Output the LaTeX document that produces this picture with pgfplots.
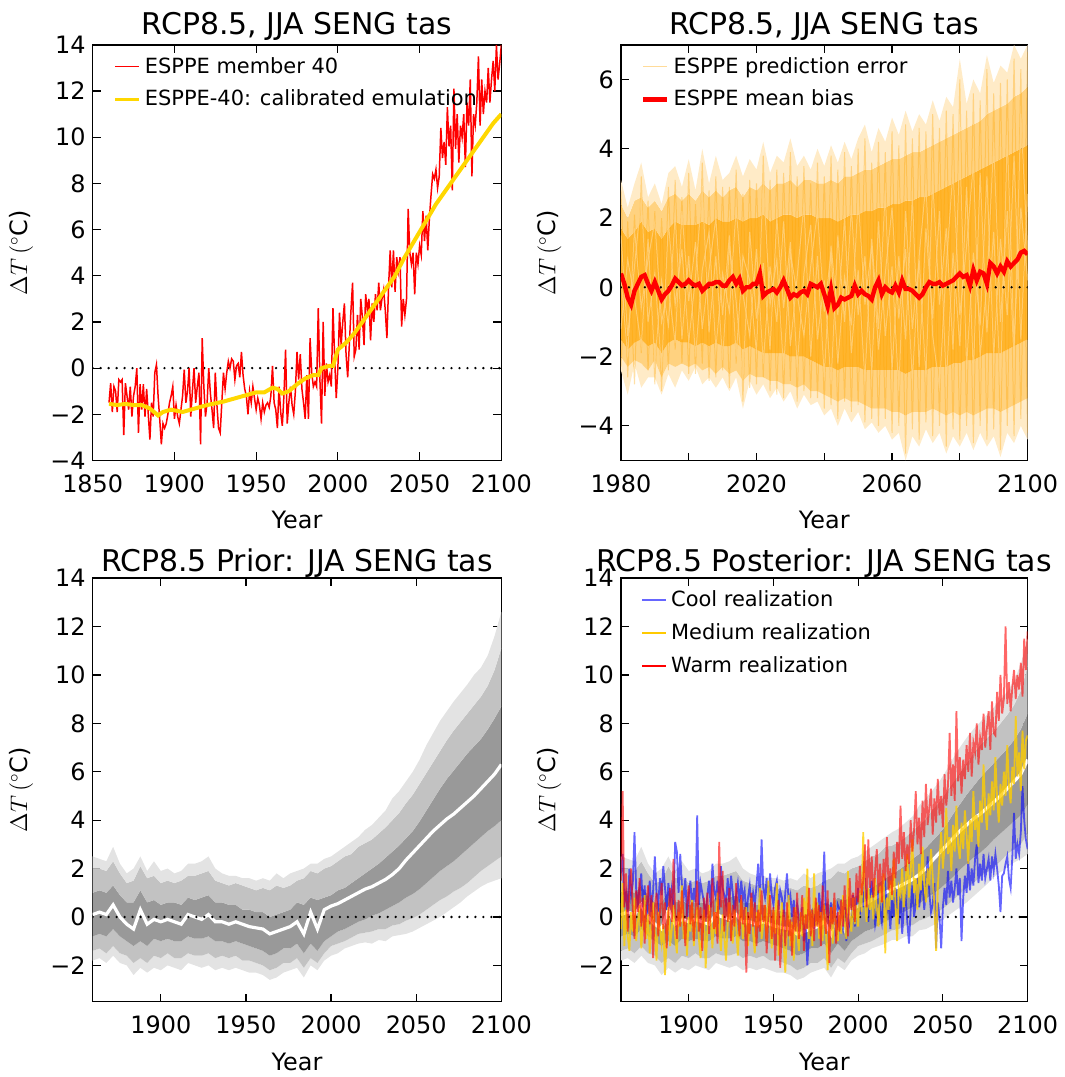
\documentclass[border=0pt]{standalone}
\usepackage{pgfplots}
\pgfplotsset{compat=1.18}
\usepackage{pgfplotstable}
\usepackage{fontspec}
\setmainfont{DejaVu Sans}
\definecolor{emugold}{RGB}{255,215,0}
\definecolor{errorange}{RGB}{255,165,0}

% ---------- data ----------
% ESPPE member 40
\pgfplotstableread[row sep=\\]{
year t\\
1860 -1.5\\ 1861 -0.65\\ 1862 -1.9\\ 1863 -0.8\\ 1864 -1.0\\ 1865 -1.9\\ 1866 -0.5\\ 1867 -0.6\\
1868 -0.5\\ 1869 -2.9\\ 1870 -0.65\\ 1871 -1.2\\ 1872 -1.8\\ 1873 -0.8\\ 1874 -2.1\\ 1875 -1.2\\
1876 -0.8\\ 1877 0.0\\ 1878 -2.8\\ 1879 -0.7\\ 1880 -1.8\\ 1881 -0.7\\ 1882 -2.1\\ 1883 -0.9\\
1884 -2.0\\ 1885 -3.1\\ 1886 -1.5\\ 1887 -2.1\\ 1888 -0.2\\ 1889 0.15\\ 1890 -1.2\\ 1891 -2.2\\
1892 -3.3\\ 1893 -2.4\\ 1894 -2.6\\ 1895 -2.4\\ 1896 -2.0\\ 1897 -1.5\\ 1898 -1.2\\ 1899 -0.8\\
1900 -2.2\\ 1901 -1.6\\ 1902 -2.1\\ 1903 -2.4\\ 1904 -1.8\\ 1905 -1.2\\ 1906 -0.07\\ 1907 -1.5\\
1908 -1.0\\ 1909 0.0\\ 1910 -2.1\\ 1911 -1.0\\ 1912 0.0\\ 1913 -1.5\\ 1914 -0.8\\ 1915 -0.2\\
1916 -3.3\\ 1917 1.3\\ 1918 -0.8\\ 1919 -2.1\\ 1920 -1.5\\ 1921 0.0\\ 1922 -1.1\\ 1923 -1.8\\
1924 -2.6\\ 1925 -0.2\\ 1926 -1.6\\ 1927 -2.6\\ 1928 -2.8\\ 1929 -1.5\\ 1930 -0.2\\ 1931 -0.9\\
1932 -0.2\\ 1933 0.3\\ 1934 0.0\\ 1935 0.4\\ 1936 0.3\\ 1937 -0.5\\ 1938 0.1\\ 1939 0.2\\
1940 -0.4\\ 1941 0.7\\ 1942 -0.3\\ 1943 -0.9\\ 1944 -1.2\\ 1945 -2.0\\ 1946 -1.0\\ 1947 -1.5\\
1948 -0.8\\ 1949 -1.3\\ 1950 -1.8\\ 1951 -1.3\\ 1952 -1.6\\ 1953 -2.2\\ 1954 -1.5\\ 1955 -1.9\\
1956 -1.6\\ 1957 -1.5\\ 1958 -1.7\\ 1959 -1.2\\ 1960 0.1\\ 1961 -1.5\\ 1962 -1.8\\ 1963 -2.6\\
1964 -0.8\\ 1965 -1.9\\ 1966 -2.5\\ 1967 -1.2\\ 1968 0.8\\ 1969 -2.4\\ 1970 -1.5\\ 1971 -0.8\\
1972 -1.6\\ 1973 -2.0\\ 1974 -1.0\\ 1975 0.7\\ 1976 -0.5\\ 1977 0.6\\ 1978 -0.9\\ 1979 -1.5\\
1980 -2.2\\ 1981 -0.3\\ 1982 -2.2\\ 1983 1.3\\ 1984 -0.2\\ 1985 -0.8\\ 1986 -0.6\\ 1987 -0.8\\
1988 2.6\\ 1989 -0.5\\ 1990 -2.4\\ 1991 2.0\\ 1992 -1.2\\ 1993 0.2\\ 1994 -0.6\\ 1995 -0.3\\
1996 -0.8\\ 1997 2.6\\ 1998 0.5\\ 1999 -1.3\\ 2000 0.0\\ 2001 2.4\\ 2002 1.0\\ 2003 2.0\\
2004 2.8\\ 2005 0.6\\ 2006 -0.4\\ 2007 1.0\\ 2008 2.5\\ 2009 3.7\\ 2010 0.5\\ 2011 0.8\\
2012 2.3\\ 2013 0.8\\ 2014 3.0\\ 2015 2.2\\ 2016 1.0\\ 2017 3.2\\ 2018 2.5\\ 2019 3.0\\
2020 1.2\\ 2021 2.8\\ 2022 2.0\\ 2023 3.2\\ 2024 2.5\\ 2025 3.7\\ 2026 2.5\\ 2027 3.0\\
2028 3.4\\ 2029 2.5\\ 2030 1.3\\ 2031 3.5\\ 2032 5.1\\ 2033 3.5\\ 2034 5.1\\ 2035 3.3\\
2036 4.8\\ 2037 4.2\\ 2038 4.8\\ 2039 1.8\\ 2040 3.0\\ 2041 2.3\\ 2042 3.0\\ 2043 6.9\\
2044 5.0\\ 2045 4.5\\ 2046 5.0\\ 2047 3.2\\ 2048 5.0\\ 2049 4.5\\ 2050 5.3\\ 2051 4.9\\
2052 6.8\\ 2053 5.5\\ 2054 6.6\\ 2055 5.1\\ 2056 6.5\\ 2057 7.5\\ 2058 8.4\\ 2059 8.2\\
2060 8.6\\ 2061 7.8\\ 2062 8.3\\ 2063 10.4\\ 2064 9.1\\ 2065 9.8\\ 2066 8.8\\ 2067 11.3\\
2068 9.6\\ 2069 10.5\\ 2070 7.7\\ 2071 12.1\\ 2072 9.5\\ 2073 11.0\\ 2074 8.9\\ 2075 10.5\\
2076 10.0\\ 2077 11.0\\ 2078 8.7\\ 2079 11.5\\ 2080 10.5\\ 2081 12.5\\ 2082 8.3\\ 2083 11.0\\
2084 10.5\\ 2085 11.5\\ 2086 13.5\\ 2087 10.5\\ 2088 12.5\\ 2089 11.0\\ 2090 12.0\\ 2091 11.5\\
2092 13.0\\ 2093 11.5\\ 2094 12.5\\ 2095 13.3\\ 2096 12.0\\ 2097 14.0\\ 2098 12.5\\ 2099 13.2\\
2100 14.0\\
}\memb

% prediction error envelope (2-yr steps) and a few error traces
\pgfplotstableread[row sep=\\]{
year olo mlo clo chi mhi ohi a b c d e\\
1980 -2.4 -2.0 -1.5 1.7 2.4 3.1 1.5 -1.2 0.3 2.8 -2.3\\
1982 -3.1 -2.3 -1.8 1.4 2.0 2.3 -1.4 0.8 -2.0 -2.6 1.9\\
1984 -2.2 -2.1 -1.6 1.6 2.5 3.0 0.6 -0.3 1.7 2.1 -2.8\\
1986 -2.9 -2.2 -1.5 1.9 2.6 3.6 2.6 -1.7 -0.6 -1.9 3.2\\
1988 -2.6 -2.4 -1.7 1.6 2.3 2.6 -1.0 1.4 0.8 2.5 -2.4\\
1990 -2.6 -2.1 -1.6 1.7 2.5 3.0 0.4 -2.2 1.9 -2.8 2.2\\
1992 -3.1 -2.6 -1.9 1.4 2.2 2.4 -2.4 0.2 -1.0 2.0 -3.0\\
1994 -2.5 -2.2 -1.6 1.7 2.6 3.3 1.9 -1.1 0.0 -2.4 2.9\\
1996 -2.9 -2.3 -1.5 1.9 2.7 3.5 -0.5 2.1 -1.6 3.1 -1.8\\
1998 -2.4 -2.2 -1.6 1.8 2.5 2.9 1.1 -1.5 2.2 -2.2 2.6\\
2000 -2.7 -2.3 -1.6 1.8 2.7 3.7 -1.6 0.9 -0.4 3.3 -2.5\\
2002 -2.3 -2.2 -1.7 1.8 2.5 2.8 0.3 -2.0 1.3 -2.5 2.4\\
2004 -2.8 -2.4 -1.6 1.9 2.8 4.0 2.9 0.5 -1.2 3.6 -2.2\\
2006 -2.6 -2.3 -1.7 1.8 2.6 3.0 -1.3 1.6 0.5 -2.7 2.8\\
2008 -2.9 -2.5 -1.6 2.0 2.8 3.8 0.9 -1.8 2.0 3.2 -2.6\\
2010 -2.6 -2.3 -1.7 1.9 2.6 3.1 -2.1 0.4 -0.8 -2.4 2.9\\
2012 -3.0 -2.5 -1.7 1.9 2.8 3.3 1.2 -0.7 1.5 2.9 -2.9\\
2014 -2.6 -2.4 -1.6 2.0 2.9 3.8 -0.4 2.3 -2.0 -2.2 3.4\\
2016 -3.5 -2.7 -1.8 1.9 2.6 3.2 -2.7 -0.2 0.9 2.7 -3.3\\
2018 -2.7 -2.5 -1.7 2.0 2.9 3.7 1.6 -1.4 0.2 -2.9 3.1\\
2020 -3.1 -2.6 -1.8 2.0 2.8 3.4 -0.9 1.1 -1.9 3.0 -2.8\\
2022 -2.8 -2.6 -1.9 2.1 3.0 4.2 0.7 -2.2 3.1 -2.6 3.8\\
2024 -3.2 -2.7 -1.9 1.9 2.8 3.3 -1.8 0.6 -0.5 3.1 -3.0\\
2026 -2.9 -2.7 -1.9 2.0 3.0 3.8 2.0 -1.0 0.8 -3.1 3.4\\
2028 -3.3 -2.8 -1.9 2.1 3.0 3.6 -0.6 1.9 -2.4 3.3 -3.2\\
2030 -3.0 -2.8 -2.0 2.1 3.1 4.3 1.3 -1.7 1.0 -2.7 3.9\\
2032 -3.5 -2.9 -2.0 2.0 2.9 3.5 -2.3 0.3 -0.2 3.2 -3.3\\
2034 -3.1 -2.8 -2.0 2.1 3.1 3.8 0.4 2.4 -1.4 -3.0 3.5\\
2036 -3.4 -3.0 -2.1 2.1 3.1 3.4 1.8 -2.0 0.6 3.0 -3.2\\
2038 -3.3 -3.0 -2.2 2.0 3.0 4.0 -1.5 0.9 2.2 -3.2 3.6\\
2040 -3.7 -3.1 -2.3 2.0 3.0 3.5 0.2 -2.6 -0.7 3.2 -3.5\\
2042 -3.5 -3.2 -2.3 2.0 3.1 4.1 -2.8 1.2 1.0 -3.4 3.8\\
2044 -4.0 -3.3 -2.4 1.9 3.0 3.6 1.5 -0.8 -2.2 3.4 -3.8\\
2046 -3.5 -3.2 -2.3 2.0 3.2 4.2 -1.0 2.0 0.3 -3.3 3.9\\
2048 -3.9 -3.3 -2.3 2.1 3.2 3.7 2.3 -1.9 -1.1 3.5 -3.6\\
2050 -3.6 -3.3 -2.3 2.1 3.3 4.3 -0.8 0.5 2.6 -3.4 4.0\\
2052 -4.1 -3.4 -2.4 2.2 3.4 4.7 0.9 -2.7 -0.5 4.3 -3.9\\
2054 -3.9 -3.5 -2.4 2.2 3.4 3.9 -2.5 1.4 1.2 -3.8 3.6\\
2056 -4.2 -3.5 -2.4 2.3 3.5 4.6 1.9 -1.2 -1.8 4.2 -4.0\\
2058 -4.0 -3.5 -2.4 2.3 3.6 4.2 -1.4 2.8 0.4 -3.8 3.9\\
2060 -4.4 -3.6 -2.4 2.4 3.7 4.9 0.6 -2.4 2.3 4.5 -4.2\\
2062 -4.2 -3.6 -2.4 2.4 3.7 4.4 -3.0 0.9 -0.9 -4.0 4.1\\
2064 -5.0 -3.7 -2.5 2.5 3.8 5.1 2.2 -1.5 1.1 4.7 -4.8\\
2066 -4.3 -3.6 -2.4 2.5 3.9 4.5 -1.2 2.6 -2.7 -4.1 4.3\\
2068 -4.6 -3.6 -2.4 2.6 3.9 5.0 0.8 -2.3 0.9 4.6 -4.4\\
2070 -4.1 -3.6 -2.4 2.6 4.0 4.7 -2.6 1.7 3.0 -3.9 4.5\\
2072 -4.5 -3.5 -2.3 2.7 4.1 5.4 3.1 -0.9 -1.4 5.0 -4.3\\
2074 -4.2 -3.6 -2.3 2.8 4.2 4.8 -0.5 2.2 -2.9 -4.0 4.6\\
2076 -4.8 -3.7 -2.3 2.9 4.3 5.5 1.7 -2.8 0.6 5.1 -4.6\\
2078 -4.3 -3.6 -2.2 3.0 4.4 5.2 -1.8 1.0 3.4 -4.1 5.0\\
2080 -4.6 -3.7 -2.2 3.1 4.5 6.6 4.0 -1.7 -0.8 6.0 -4.4\\
2082 -4.2 -3.6 -2.1 3.2 4.6 5.3 -2.3 2.9 1.2 -4.0 5.1\\
2084 -4.7 -3.7 -2.1 3.3 4.7 6.0 1.0 -2.5 3.6 5.6 -4.5\\
2086 -4.2 -3.6 -2.0 3.4 4.8 5.6 -1.1 3.3 -2.0 -4.0 5.4\\
2088 -4.6 -3.5 -1.9 3.5 5.0 6.7 3.2 -1.3 0.1 6.3 -4.4\\
2090 -4.3 -3.5 -1.9 3.6 5.1 5.9 -2.0 1.6 4.2 -4.1 5.6\\
2092 -4.9 -3.6 -1.9 3.7 5.2 6.4 1.4 -2.9 -1.0 5.9 -4.7\\
2094 -4.2 -3.5 -1.8 3.8 5.3 6.2 -0.8 4.4 2.2 -4.0 6.0\\
2096 -4.5 -3.4 -1.7 3.9 5.5 7.0 3.8 -1.6 -2.1 6.6 -4.3\\
2098 -4.0 -3.3 -1.6 4.0 5.6 6.6 -1.5 2.3 5.0 -3.8 6.3\\
2100 -4.4 -3.2 -1.5 4.1 5.8 7.0 2.7 0.2 1.0 6.8 -4.2\\
}\errtab

% ESPPE mean bias
\pgfplotstableread[row sep=\\]{
year b\\
1980 0.4\\ 1981 0.1\\ 1982 -0.3\\ 1983 -0.5\\ 1984 -0.1\\ 1985 0.1\\ 1986 0.3\\ 1987 0.35\\
1988 0.1\\ 1989 -0.1\\ 1990 0.15\\ 1991 -0.1\\ 1992 -0.35\\ 1993 -0.2\\ 1994 -0.1\\ 1995 0.05\\
1996 0.25\\ 1997 0.15\\ 1998 0.05\\ 1999 0.1\\ 2000 0.2\\ 2001 0.1\\ 2002 0.05\\ 2003 0.1\\
2004 -0.1\\ 2005 0.0\\ 2006 0.1\\ 2007 0.1\\ 2008 0.15\\ 2009 0.15\\ 2010 0.05\\ 2011 0.05\\
2012 0.2\\ 2013 0.3\\ 2014 0.1\\ 2015 0.25\\ 2016 -0.1\\ 2017 0.0\\ 2018 0.0\\ 2019 0.1\\
2020 0.1\\ 2021 0.4\\ 2022 -0.25\\ 2023 -0.15\\ 2024 -0.1\\ 2025 -0.05\\ 2026 -0.15\\ 2027 0.0\\
2028 0.2\\ 2029 -0.05\\ 2030 -0.3\\ 2031 -0.2\\ 2032 -0.25\\ 2033 -0.15\\ 2034 -0.1\\ 2035 -0.2\\
2036 0.1\\ 2037 0.05\\ 2038 0.0\\ 2039 0.1\\ 2040 -0.2\\ 2041 -0.55\\ 2042 -0.05\\ 2043 -0.6\\
2044 -0.5\\ 2045 -0.3\\ 2046 -0.35\\ 2047 -0.3\\ 2048 -0.25\\ 2049 0.05\\ 2050 -0.2\\ 2051 -0.1\\
2052 -0.2\\ 2053 -0.25\\ 2054 -0.35\\ 2055 0.0\\ 2056 0.2\\ 2057 -0.2\\ 2058 0.0\\ 2059 -0.1\\
2060 -0.15\\ 2061 0.05\\ 2062 -0.15\\ 2063 0.2\\ 2064 -0.05\\ 2065 -0.05\\ 2066 -0.1\\ 2067 -0.2\\
2068 -0.3\\ 2069 -0.2\\ 2070 0.0\\ 2071 0.15\\ 2072 0.1\\ 2073 0.1\\ 2074 0.15\\ 2075 0.05\\
2076 0.1\\ 2077 0.15\\ 2078 0.2\\ 2079 0.3\\ 2080 0.4\\ 2081 0.3\\ 2082 0.35\\ 2083 0.05\\
2084 0.5\\ 2085 0.2\\ 2086 0.45\\ 2087 0.4\\ 2088 0.1\\ 2089 0.7\\ 2090 0.6\\ 2091 0.4\\
2092 0.6\\ 2093 0.45\\ 2094 0.75\\ 2095 0.6\\ 2096 0.7\\ 2097 0.8\\ 2098 1.0\\ 2099 1.05\\
2100 0.95\\
}\biastab

% prior percentile bands
\pgfplotstableread[row sep=\\]{
year olo llo dlo med dhi lhi ohi\\
1860 -1.8 -1.4 -0.8 0.1 1.0 2.0 2.5\\
1864 -1.7 -1.3 -0.7 0.2 1.1 2.0 2.4\\
1868 -1.9 -1.5 -0.8 0.1 1.0 1.9 2.3\\
1872 -1.6 -1.2 -0.5 0.5 1.3 2.3 2.9\\
1876 -1.9 -1.5 -0.8 0.0 0.9 1.8 2.2\\
1880 -2.0 -1.6 -1.0 -0.3 0.6 1.4 1.8\\
1884 -2.4 -1.9 -1.2 -0.5 0.6 1.5 2.0\\
1888 -2.1 -1.7 -1.0 0.3 1.1 2.1 2.5\\
1892 -2.3 -1.9 -1.2 -0.3 0.6 1.6 1.9\\
1896 -2.1 -1.6 -0.9 -0.1 0.7 1.7 2.3\\
1900 -2.2 -1.7 -1.0 -0.2 0.5 1.4 1.9\\
1904 -2.0 -1.5 -0.9 -0.1 0.6 1.5 2.0\\
1908 -2.1 -1.7 -1.0 -0.2 0.6 1.4 1.8\\
1912 -2.2 -1.7 -1.0 -0.3 0.5 1.5 1.9\\
1916 -1.9 -1.5 -0.8 0.1 0.8 1.7 2.2\\
1920 -2.0 -1.6 -0.9 0.0 0.7 1.7 2.2\\
1924 -2.1 -1.6 -0.9 -0.1 0.8 1.8 2.3\\
1928 -2.0 -1.5 -0.8 0.1 0.9 1.9 2.5\\
1932 -2.2 -1.7 -1.0 -0.2 0.6 1.5 2.0\\
1936 -2.1 -1.6 -1.0 -0.2 0.6 1.4 1.8\\
1940 -2.2 -1.7 -1.1 -0.3 0.5 1.3 1.7\\
1944 -2.1 -1.6 -1.0 -0.2 0.5 1.4 1.7\\
1948 -2.2 -1.8 -1.1 -0.3 0.3 1.3 1.6\\
1952 -2.3 -1.8 -1.2 -0.4 0.3 1.2 1.6\\
1956 -2.3 -1.9 -1.3 -0.45 0.2 1.1 1.5\\
1960 -2.4 -2.0 -1.4 -0.5 0.2 1.2 1.6\\
1964 -2.6 -2.2 -1.6 -0.7 0.0 1.1 1.5\\
1968 -2.5 -2.1 -1.5 -0.6 0.1 1.3 1.8\\
1972 -2.3 -1.9 -1.3 -0.5 0.2 1.2 1.6\\
1976 -2.2 -1.9 -1.3 -0.4 0.3 1.3 1.8\\
1980 -2.1 -1.7 -1.1 -0.2 0.6 1.5 1.9\\
1984 -2.5 -2.1 -1.5 -0.7 0.5 1.6 2.0\\
1988 -2.0 -1.7 -1.1 0.2 0.8 1.9 2.2\\
1992 -2.2 -1.9 -1.4 -0.5 0.7 1.8 2.2\\
1996 -1.8 -1.5 -1.0 0.3 0.8 2.0 2.4\\
2000 -1.6 -1.2 -0.8 0.45 0.9 2.1 2.5\\
2004 -1.5 -1.1 -0.6 0.55 1.1 2.3 2.7\\
2008 -1.3 -1.0 -0.5 0.7 1.2 2.5 2.9\\
2012 -1.2 -0.85 -0.35 0.85 1.4 2.6 3.1\\
2016 -1.1 -0.7 -0.2 1.0 1.6 2.9 3.3\\
2020 -1.05 -0.65 -0.1 1.15 1.8 3.05 3.6\\
2024 -1.1 -0.6 0.05 1.25 2.0 3.2 3.8\\
2028 -0.95 -0.5 0.15 1.4 2.2 3.45 4.1\\
2032 -1.0 -0.5 0.3 1.55 2.45 3.7 4.4\\
2036 -0.8 -0.35 0.45 1.75 2.7 4.0 4.9\\
2040 -0.75 -0.3 0.6 2.0 2.95 4.3 5.2\\
2044 -0.7 -0.15 0.8 2.35 3.25 4.7 5.6\\
2048 -0.6 -0.05 0.95 2.65 3.55 5.05 6.0\\
2052 -0.45 0.1 1.15 2.95 3.95 5.5 6.5\\
2056 -0.3 0.3 1.4 3.25 4.4 5.95 7.1\\
2060 -0.15 0.5 1.65 3.55 4.85 6.4 7.6\\
2064 0.0 0.7 1.9 3.8 5.3 6.85 8.1\\
2068 0.2 0.85 2.1 4.05 5.7 7.3 8.5\\
2072 0.4 1.05 2.3 4.25 6.05 7.7 8.9\\
2076 0.6 1.2 2.55 4.5 6.4 8.05 9.25\\
2080 0.85 1.4 2.8 4.75 6.75 8.4 9.6\\
2084 1.05 1.65 3.05 5.0 7.05 8.75 10.0\\
2088 1.25 1.9 3.3 5.3 7.35 9.1 10.3\\
2092 1.4 2.1 3.55 5.6 7.75 9.55 10.8\\
2096 1.5 2.3 3.75 5.9 8.2 10.2 11.6\\
2100 1.6 2.5 4.0 6.3 8.7 11.1 12.6\\
}\priortab

% posterior percentile bands
\pgfplotstableread[row sep=\\]{
year olo llo dlo med dhi lhi ohi\\
1860 -1.8 -1.4 -0.8 0.1 1.0 2.0 2.5\\
1864 -1.7 -1.3 -0.7 0.2 1.1 2.0 2.4\\
1868 -1.9 -1.5 -0.8 0.1 1.0 1.9 2.3\\
1872 -1.6 -1.2 -0.5 0.5 1.3 2.3 2.9\\
1876 -1.9 -1.5 -0.8 0.0 0.9 1.8 2.2\\
1880 -2.0 -1.6 -1.0 -0.3 0.6 1.4 1.8\\
1884 -2.4 -1.9 -1.2 -0.5 0.6 1.5 2.0\\
1888 -2.1 -1.7 -1.0 0.3 1.1 2.1 2.5\\
1892 -2.3 -1.9 -1.2 -0.3 0.6 1.6 1.9\\
1896 -2.1 -1.6 -0.9 -0.1 0.7 1.7 2.3\\
1900 -2.2 -1.7 -1.0 -0.2 0.5 1.4 1.9\\
1904 -2.0 -1.5 -0.9 -0.1 0.6 1.5 2.0\\
1908 -2.1 -1.7 -1.0 -0.2 0.6 1.4 1.8\\
1912 -2.2 -1.7 -1.0 -0.3 0.5 1.5 1.9\\
1916 -1.9 -1.5 -0.8 0.1 0.8 1.7 2.2\\
1920 -2.0 -1.6 -0.9 0.0 0.7 1.7 2.2\\
1924 -2.1 -1.6 -0.9 -0.1 0.8 1.8 2.3\\
1928 -2.0 -1.5 -0.8 0.1 0.9 1.9 2.5\\
1932 -2.2 -1.7 -1.0 -0.2 0.6 1.5 2.0\\
1936 -2.1 -1.6 -1.0 -0.2 0.6 1.4 1.8\\
1940 -2.2 -1.7 -1.1 -0.3 0.5 1.3 1.7\\
1944 -2.1 -1.6 -1.0 -0.2 0.5 1.4 1.7\\
1948 -2.2 -1.8 -1.1 -0.3 0.3 1.3 1.6\\
1952 -2.3 -1.8 -1.2 -0.4 0.3 1.2 1.6\\
1956 -2.3 -1.9 -1.3 -0.45 0.2 1.1 1.5\\
1960 -2.4 -2.0 -1.4 -0.5 0.2 1.2 1.6\\
1964 -2.6 -2.2 -1.6 -0.7 0.0 1.1 1.5\\
1968 -2.5 -2.1 -1.5 -0.6 0.1 1.3 1.8\\
1972 -2.3 -1.9 -1.3 -0.5 0.2 1.2 1.6\\
1976 -2.2 -1.9 -1.3 -0.4 0.3 1.3 1.8\\
1980 -2.1 -1.7 -1.1 -0.2 0.6 1.5 1.9\\
1984 -2.5 -2.1 -1.5 -0.7 0.5 1.6 2.0\\
1988 -2.0 -1.7 -1.1 0.2 0.8 1.9 2.2\\
1992 -2.2 -1.9 -1.4 -0.5 0.7 1.8 2.2\\
1996 -1.8 -1.5 -1.0 0.3 0.8 2.0 2.4\\
2000 -1.6 -1.2 -0.8 0.45 0.9 2.1 2.5\\
2004 -1.5 -1.1 -0.6 0.55 1.1 2.3 2.7\\
2008 -1.3 -1.0 -0.5 0.7 1.2 2.5 2.9\\
2012 -1.2 -0.85 -0.35 0.85 1.4 2.6 3.1\\
2016 -1.1 -0.7 -0.2 1.0 1.6 2.9 3.3\\
2020 -0.95 -0.55 -0.05 1.15 1.75 2.95 3.5\\
2024 -0.95 -0.5 0.12 1.25 1.95 3.1 3.65\\
2028 -0.8 -0.35 0.25 1.4 2.15 3.3 3.9\\
2032 -0.8 -0.35 0.4 1.55 2.4 3.55 4.15\\
2036 -0.55 -0.15 0.55 1.75 2.6 3.8 4.6\\
2040 -0.5 -0.05 0.75 2.0 2.85 4.05 4.9\\
2044 -0.35 0.1 0.95 2.35 3.15 4.45 5.25\\
2048 -0.2 0.25 1.15 2.65 3.45 4.75 5.6\\
2052 0.0 0.45 1.4 2.95 3.8 5.15 6.05\\
2056 0.2 0.7 1.65 3.25 4.25 5.55 6.55\\
2060 0.4 0.95 1.95 3.55 4.65 5.95 7.0\\
2064 0.6 1.2 2.2 3.8 5.05 6.35 7.4\\
2068 0.85 1.4 2.45 4.05 5.4 6.75 7.75\\
2072 1.1 1.65 2.65 4.25 5.75 7.1 8.05\\
2076 1.35 1.85 2.9 4.5 6.05 7.4 8.35\\
2080 1.65 2.05 3.2 4.75 6.35 7.65 8.65\\
2084 1.85 2.3 3.45 5.0 6.65 8.0 9.0\\
2088 2.05 2.6 3.7 5.3 6.95 8.35 9.3\\
2092 2.25 2.8 3.95 5.6 7.3 8.75 9.75\\
2096 2.4 3.0 4.2 5.9 7.75 9.35 10.45\\
2100 2.6 3.45 4.65 6.5 8.4 10.35 11.5\\
}\posttab

% cool / medium / warm posterior realizations
\pgfplotstableread[row sep=\\]{
year cool med warm\\
1860 1.8 -0.5 1.5\\ 1861 2.6 1.4 5.2\\ 1862 0.6 -1.2 0.4\\ 1863 1.0 0.3 1.8\\
1864 0.2 -0.8 -0.6\\ 1865 2.0 -1.4 1.2\\ 1866 0.9 0.2 2.0\\ 1867 1.4 -0.6 0.3\\
1868 3.5 0.8 -0.9\\ 1869 1.1 -1.0 1.1\\ 1870 0.5 -0.2 0.2\\ 1871 1.2 0.5 1.6\\
1872 1.8 -1.3 -0.4\\ 1873 0.4 -0.4 0.8\\ 1874 1.3 0.9 -1.1\\ 1875 -0.2 -0.9 0.5\\
1876 0.7 0.1 1.3\\ 1877 1.5 -1.5 -0.3\\ 1878 0.2 -0.3 0.9\\ 1879 1.1 0.6 -1.7\\
1880 2.5 -0.7 0.4\\ 1881 1.0 -1.8 1.0\\ 1882 0.5 0.2 -0.8\\ 1883 1.6 -0.5 0.2\\
1884 0.9 -1.1 1.4\\ 1885 2.1 -0.3 -0.5\\ 1886 1.2 -2.4 0.6\\ 1887 0.3 -0.9 -1.3\\
1888 1.4 0.4 0.1\\ 1889 0.7 -1.2 1.2\\ 1890 1.2 -0.5 -0.2\\ 1891 0.4 0.5 2.4\\
1892 3.1 -0.8 0.3\\ 1893 2.7 -1.5 -0.9\\ 1894 1.0 0.2 0.7\\ 1895 2.6 -0.4 -0.4\\
1896 1.3 1.3 1.1\\ 1897 0.8 -0.9 0.0\\ 1898 1.6 -0.2 -1.2\\ 1899 0.0 -1.6 0.5\\
1900 0.9 0.0 1.3\\ 1901 1.5 -0.6 -0.3\\ 1902 0.3 0.7 0.6\\ 1903 1.2 -1.2 -1.0\\
1904 0.6 -0.3 0.2\\ 1905 4.2 0.4 1.5\\ 1906 0.5 -0.9 -0.6\\ 1907 1.4 -1.7 0.4\\
1908 1.0 -0.4 -1.4\\ 1909 0.6 0.3 0.8\\ 1910 0.0 -2.1 -0.2\\ 1911 0.9 -0.6 1.0\\
1912 1.5 0.5 -0.7\\ 1913 0.4 -0.2 0.3\\ 1914 2.2 -1.3 1.6\\ 1915 1.1 0.2 -0.5\\
1916 0.8 -0.7 0.2\\ 1917 1.5 1.0 -1.1\\ 1918 0.3 -0.5 3.1\\ 1919 2.1 -1.4 0.4\\
1920 1.2 0.1 1.9\\ 1921 0.9 -0.8 -0.6\\ 1922 0.5 -1.8 0.8\\ 1923 1.6 -0.3 -0.2\\
1924 0.6 0.6 1.2\\ 1925 1.7 -0.6 -1.0\\ 1926 1.0 -1.1 0.5\\ 1927 0.2 0.3 -0.4\\
1928 0.9 -0.4 1.4\\ 1929 1.4 -1.6 0.1\\ 1930 0.6 -0.2 -0.8\\ 1931 1.5 0.7 0.9\\
1932 0.7 -0.9 -0.3\\ 1933 1.1 -0.3 0.4\\ 1934 0.0 0.4 -2.3\\ 1935 0.8 -1.2 0.2\\
1936 1.3 -0.1 -0.7\\ 1937 0.4 0.8 1.0\\ 1938 1.0 -0.7 -0.4\\ 1939 0.5 -1.5 0.6\\
1940 1.3 0.2 -1.2\\ 1941 2.2 -0.4 0.3\\ 1942 0.6 1.2 -0.6\\ 1943 3.2 -0.9 1.1\\
1944 1.2 -0.3 -0.2\\ 1945 0.8 0.5 0.5\\ 1946 1.6 -1.0 -1.5\\ 1947 0.4 1.5 0.0\\
1948 1.8 -0.2 0.9\\ 1949 0.9 -1.3 -0.9\\ 1950 0.5 0.3 0.4\\ 1951 1.2 -0.7 -1.8\\
1952 1.5 1.4 -0.3\\ 1953 0.3 -1.6 0.7\\ 1954 1.1 -0.4 -2.1\\ 1955 0.8 0.6 -0.5\\
1956 0.0 -1.1 0.3\\ 1957 1.0 -2.3 -1.2\\ 1958 1.8 -0.5 0.6\\ 1959 0.6 0.9 -0.8\\
1960 0.9 -1.2 -0.1\\ 1961 0.0 -0.2 -1.6\\ 1962 0.7 -1.8 0.4\\ 1963 -0.3 0.4 -0.6\\
1964 0.5 -0.6 1.0\\ 1965 0.1 -1.4 -0.9\\ 1966 -0.6 0.2 -0.2\\ 1967 0.4 -0.8 0.9\\
1968 -1.0 0.8 -1.4\\ 1969 -0.3 -0.5 0.1\\ 1970 -2.0 2.0 -0.5\\ 1971 -0.8 -0.9 1.2\\
1972 0.2 0.3 -0.8\\ 1973 0.3 -1.2 0.3\\ 1974 -0.5 1.8 -1.0\\ 1975 0.6 -0.4 0.8\\
1976 -0.2 0.6 -0.4\\ 1977 1.0 -0.9 0.5\\ 1978 0.1 0.2 -1.2\\ 1979 0.8 -1.0 1.3\\
1980 2.7 0.5 0.0\\ 1981 0.2 -0.6 -0.7\\ 1982 0.5 -2.2 1.1\\ 1983 -0.4 -0.3 -1.9\\
1984 0.6 0.4 0.4\\ 1985 -0.5 -1.1 -0.3\\ 1986 0.3 0.7 1.0\\ 1987 -0.8 -0.5 -1.1\\
1988 0.5 -1.0 0.2\\ 1989 0.3 0.3 -0.6\\ 1990 -0.2 -0.7 0.7\\ 1991 -0.5 0.9 -0.4\\
1992 0.4 -0.2 1.3\\ 1993 -1.0 -0.9 0.0\\ 1994 0.1 1.9 -0.8\\ 1995 -0.3 0.1 1.6\\
1996 0.0 -0.6 0.3\\ 1997 0.9 0.8 1.0\\ 1998 -0.4 -0.3 -0.2\\ 1999 0.5 0.5 1.8\\
2000 1.2 -0.4 0.6\\ 2001 0.1 1.1 2.1\\ 2002 1.0 0.2 0.9\\ 2003 0.4 3.5 1.5\\
2004 1.6 0.6 3.0\\ 2005 0.5 -0.2 0.4\\ 2006 -0.2 1.2 3.2\\ 2007 0.9 0.3 1.2\\
2008 1.5 0.9 2.5\\ 2009 0.6 -0.1 0.8\\ 2010 -0.3 1.6 1.9\\ 2011 0.2 0.4 2.8\\
2012 1.1 -0.4 1.0\\ 2013 0.3 1.3 2.2\\ 2014 -0.2 0.6 0.6\\ 2015 0.8 1.8 2.4\\
2016 1.3 -1.5 1.5\\ 2017 0.2 0.8 3.3\\ 2018 0.6 0.3 1.1\\ 2019 -0.5 1.5 2.0\\
2020 0.7 0.7 0.9\\ 2021 0.0 2.4 2.7\\ 2022 1.2 0.5 1.6\\ 2023 0.5 -1.0 3.1\\
2024 -0.3 1.2 2.2\\ 2025 1.0 0.9 4.6\\ 2026 -0.7 2.0 2.4\\ 2027 0.4 0.4 3.5\\
2028 0.9 1.4 1.9\\ 2029 -0.2 2.6 3.0\\ 2030 -1.1 0.8 2.2\\ 2031 0.3 1.9 4.0\\
2032 1.3 3.2 2.7\\ 2033 0.0 1.0 3.6\\ 2034 0.5 1.6 5.2\\ 2035 1.6 0.3 3.0\\
2036 0.4 2.2 4.1\\ 2037 1.0 1.1 2.6\\ 2038 1.5 2.9 4.8\\ 2039 0.3 1.4 3.3\\
2040 1.1 0.6 5.5\\ 2041 2.5 2.0 3.8\\ 2042 1.0 1.3 4.5\\ 2043 0.2 2.8 5.3\\
2044 0.5 1.7 3.4\\ 2045 1.4 0.5 4.9\\ 2046 -1.3 -1.4 3.9\\ 2047 0.6 1.2 5.7\\
2048 0.0 2.4 4.2\\ 2049 -1.3 3.5 5.0\\ 2050 0.4 2.0 3.7\\ 2051 1.2 2.9 5.9\\
2052 0.5 4.5 4.6\\ 2053 1.9 2.6 5.4\\ 2054 0.8 3.3 7.6\\ 2055 1.5 1.9 5.0\\
2056 0.6 3.8 6.3\\ 2057 1.2 2.7 4.8\\ 2058 2.0 4.6 8.5\\ 2059 0.9 3.0 5.6\\
2060 1.6 2.4 6.6\\ 2061 -1.0 3.9 5.1\\ 2062 0.8 2.8 6.5\\ 2063 1.7 4.4 5.7\\
2064 1.0 3.4 7.1\\ 2065 2.3 2.2 6.0\\ 2066 1.1 4.0 7.6\\ 2067 2.0 3.1 5.8\\
2068 1.3 5.2 7.2\\ 2069 2.4 3.6 6.8\\ 2070 3.0 4.2 8.0\\ 2071 1.4 2.9 6.3\\
2072 2.2 4.8 7.4\\ 2073 1.5 3.9 6.9\\ 2074 2.6 6.3 8.4\\ 2075 1.6 4.5 7.0\\
2076 2.0 3.6 7.8\\ 2077 2.4 5.1 8.5\\ 2078 1.5 4.2 6.9\\ 2079 2.5 5.6 8.9\\
2080 1.9 4.4 7.6\\ 2081 2.6 6.6 7.5\\ 2082 2.0 4.9 9.3\\ 2083 1.3 3.9 8.1\\
2084 0.2 5.5 10.0\\ 2085 1.7 4.6 8.4\\ 2086 1.8 6.0 9.0\\ 2087 2.2 5.0 12.0\\
2088 2.5 7.1 8.8\\ 2089 1.6 5.4 9.7\\ 2090 1.2 4.7 8.5\\ 2091 2.5 6.2 9.5\\
2092 4.3 5.5 10.2\\ 2093 2.4 8.3 9.0\\ 2094 3.0 5.8 10.0\\ 2095 2.6 6.8 9.4\\
2096 3.5 5.2 10.5\\ 2097 5.4 7.7 9.1\\ 2098 4.0 6.1 11.5\\ 2099 3.2 7.3 10.2\\
2100 2.8 7.5 11.8\\
}\realtab

\pgfplotsset{
  panel/.style={
    scale only axis,
    axis line style={line width=0.8pt},
    tick style={black, line width=0.6pt},
    major tick length=4pt,
    tick align=inside,
    tick label style={font=\fontsize{12}{14}\selectfont},
    xticklabel style={yshift=-3.5pt},
    every axis x label/.style={at={(axis description cs:0.5,0)}, yshift=-30pt, anchor=center,
      font=\fontsize{12}{14}\selectfont},
    every axis y label/.style={at={(axis description cs:0,0.5)}, xshift=-36pt, rotate=90, anchor=center,
      font=\fontsize{12}{14}\selectfont},
    title style={font=\fontsize{15}{18}\selectfont, at={(0.5,1)}, anchor=base, yshift=-1pt},
    xlabel={Year},
    ylabel={\(\Delta T\,(^\circ\)C)},
    legend cell align=left,
    legend style={draw=none, fill=none, at={(0,1)}, anchor=north west,
      xshift=7pt, yshift=-2pt, font=\fontsize{10.5}{12}\selectfont, row sep=3pt},
    legend image code/.code={\path (0pt,0pt) -- (12pt,0pt); \draw[##1] (0pt,0pt) -- (10pt,0pt);},
  },
  zeroline/.style={forget plot, black, line width=1.3pt, line cap=round, dash pattern=on 0pt off 4pt},
  band/.style={forget plot, draw=none, stack plots=y},
  streak/.style={forget plot, errorange, opacity=0.35, line width=0.5pt},
}

\begin{document}
\begin{tikzpicture}
\path (0pt,0pt) (533.5pt,-538.5pt);

% ---------------- top left ----------------
\begin{axis}[panel, at={(46.5pt,-22.5pt)}, anchor=north west, width=205pt, height=208.5pt,
  xmin=1850, xmax=2100, ymin=-4, ymax=14,
  xtick={1850,1900,1950,2000,2050,2100}, xticklabels={1850,1900,1950,2000,2050,2100},
  ytick={-4,-2,0,2,4,6,8,10,12,14}, yticklabels={−4,−2,0,2,4,6,8,10,12,14},
  title={RCP8.5, JJA SENG tas}]
\addplot[zeroline] coordinates {(1850,0) (2100,0)};
\addplot[red, line width=0.75pt] table[x=year,y=t]{\memb};
\addlegendentry{ESPPE member 40}
\addplot[emugold, line width=2pt] coordinates {
 (1860,-1.55) (1865,-1.6) (1870,-1.55) (1875,-1.6) (1880,-1.6) (1885,-1.75) (1890,-2.05)
 (1893,-1.9) (1898,-1.8) (1905,-1.9) (1910,-1.8) (1920,-1.6) (1930,-1.45) (1940,-1.25)
 (1950,-1.05) (1955,-1.05) (1960,-0.85) (1963,-0.9) (1966,-1.1) (1970,-1.0) (1975,-0.7)
 (1980,-0.45) (1985,-0.3) (1988,-0.3) (1990,0.0) (1995,0.1) (1997,0.1) (2000,0.8)
 (2005,1.1) (2010,1.5) (2015,2.0) (2020,2.5) (2025,3.0) (2030,3.5) (2035,4.0) (2040,4.7)
 (2045,5.3) (2050,5.9) (2055,6.5) (2060,7.1) (2065,7.6) (2070,8.1) (2075,8.6) (2080,9.1)
 (2085,9.6) (2090,10.1) (2095,10.6) (2100,11.0)};
\addlegendentry{ESPPE-40: calibrated emulation}
\end{axis}

% ---------------- top right ----------------
\begin{axis}[panel, at={(311.5pt,-22.5pt)}, anchor=north west, width=204pt, height=208.5pt,
  xmin=1980, xmax=2100, ymin=-5, ymax=7,
  xtick={1980,2000,2020,2040,2060,2080,2100}, xticklabels={1980,,2020,,2060,,2100},
  ytick={-4,-2,0,2,4,6}, yticklabels={−4,−2,0,2,4,6},
  title={RCP8.5, JJA SENG tas}]
\addplot[band] table[x=year,y=olo]{\errtab};
\addplot[band, fill=errorange!22] table[x=year,y expr=\thisrow{mlo}-\thisrow{olo}]{\errtab} \closedcycle;
\addplot[band, fill=errorange!50] table[x=year,y expr=\thisrow{clo}-\thisrow{mlo}]{\errtab} \closedcycle;
\addplot[band, fill=errorange!82] table[x=year,y expr=\thisrow{chi}-\thisrow{clo}]{\errtab} \closedcycle;
\addplot[band, fill=errorange!50] table[x=year,y expr=\thisrow{mhi}-\thisrow{chi}]{\errtab} \closedcycle;
\addplot[band, fill=errorange!22] table[x=year,y expr=\thisrow{ohi}-\thisrow{mhi}]{\errtab} \closedcycle;
\addplot[streak] table[x=year,y=d]{\errtab};
\addplot[streak] table[x=year,y=e]{\errtab};
\addplot[errorange!50, opacity=0.8, line width=0.5pt, forget plot] table[x=year,y=a]{\errtab};
\addplot[errorange!50, opacity=0.8, line width=0.5pt, forget plot] table[x=year,y=b]{\errtab};
\addplot[errorange!50, opacity=0.8, line width=0.5pt, forget plot] table[x=year,y=c]{\errtab};
\addplot[zeroline] coordinates {(1980,0) (2100,0)};
\addlegendimage{errorange!40, line width=0.8pt}
\addlegendentry{ESPPE prediction error}
\addplot[red, line width=2.2pt] table[x=year,y=b]{\biastab};
\addlegendentry{ESPPE mean bias}
\end{axis}

% ---------------- bottom left ----------------
\begin{axis}[panel, at={(46.5pt,-290pt)}, anchor=north west, width=205pt, height=212.5pt,
  xmin=1860, xmax=2100, ymin=-3.5, ymax=14,
  xtick={1900,1950,2000,2050,2100}, xticklabels={1900,1950,2000,2050,2100},
  ytick={-2,0,2,4,6,8,10,12,14}, yticklabels={−2,0,2,4,6,8,10,12,14},
  title style={yshift=-1.5pt},
  title={RCP8.5 Prior: JJA SENG tas}]
\addplot[band] table[x=year,y=olo]{\priortab};
\addplot[band, fill=black!11] table[x=year,y expr=\thisrow{llo}-\thisrow{olo}]{\priortab} \closedcycle;
\addplot[band, fill=black!24] table[x=year,y expr=\thisrow{dlo}-\thisrow{llo}]{\priortab} \closedcycle;
\addplot[band, fill=black!40] table[x=year,y expr=\thisrow{dhi}-\thisrow{dlo}]{\priortab} \closedcycle;
\addplot[band, fill=black!24] table[x=year,y expr=\thisrow{lhi}-\thisrow{dhi}]{\priortab} \closedcycle;
\addplot[band, fill=black!11] table[x=year,y expr=\thisrow{ohi}-\thisrow{lhi}]{\priortab} \closedcycle;
\addplot[white, line width=1.6pt, forget plot] table[x=year,y=med]{\priortab};
\addplot[zeroline] coordinates {(1860,0) (2100,0)};
\end{axis}

% ---------------- bottom right ----------------
\begin{axis}[panel, at={(311.5pt,-290pt)}, anchor=north west, width=204pt, height=212.5pt,
  xmin=1860, xmax=2100, ymin=-3.5, ymax=14,
  xtick={1900,1950,2000,2050,2100}, xticklabels={1900,1950,2000,2050,2100},
  ytick={-2,0,2,4,6,8,10,12,14}, yticklabels={−2,0,2,4,6,8,10,12,14},
  title style={yshift=-1.5pt},
  title={RCP8.5 Posterior: JJA SENG tas}]
\addplot[band] table[x=year,y=olo]{\posttab};
\addplot[band, fill=black!11] table[x=year,y expr=\thisrow{llo}-\thisrow{olo}]{\posttab} \closedcycle;
\addplot[band, fill=black!24] table[x=year,y expr=\thisrow{dlo}-\thisrow{llo}]{\posttab} \closedcycle;
\addplot[band, fill=black!40] table[x=year,y expr=\thisrow{dhi}-\thisrow{dlo}]{\posttab} \closedcycle;
\addplot[band, fill=black!24] table[x=year,y expr=\thisrow{lhi}-\thisrow{dhi}]{\posttab} \closedcycle;
\addplot[band, fill=black!11] table[x=year,y expr=\thisrow{ohi}-\thisrow{lhi}]{\posttab} \closedcycle;
\addplot[white, line width=1.6pt, forget plot] table[x=year,y=med]{\posttab};
\addplot[zeroline] coordinates {(1860,0) (2100,0)};
\addplot[blue, opacity=0.6, line width=0.9pt, forget plot] table[x=year,y=cool]{\realtab};
\addplot[emugold!90!orange, opacity=0.8, line width=0.9pt, forget plot] table[x=year,y=med]{\realtab};
\addplot[red, opacity=0.6, line width=0.9pt, forget plot] table[x=year,y=warm]{\realtab};
\addlegendimage{blue!60!white, line width=0.9pt}
\addlegendentry{Cool realization}
\addlegendimage{emugold!85!orange, line width=0.9pt}
\addlegendentry{Medium realization}
\addlegendimage{red, line width=1pt}
\addlegendentry{Warm realization}
\end{axis}
\end{tikzpicture}
\end{document}
